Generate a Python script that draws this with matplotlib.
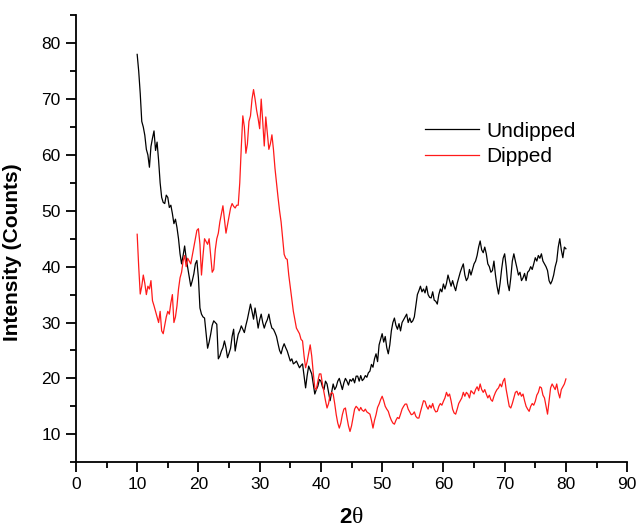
"""
XRD pattern: undipped vs dipped sample, intensity against 2-theta.
"""

import numpy as np
import matplotlib.pyplot as plt
import matplotlib as mpl
from matplotlib.ticker import MultipleLocator

mpl.rcParams["font.family"] = ["Liberation Sans", "DejaVu Sans"]

# -----------------------------------------------------------------------------
# Data, 0.25 degree steps from 10 to 80
# -----------------------------------------------------------------------------
two_theta = np.arange(10.0, 80.01, 0.25)

undipped = [
    78, 75, 71, 66, 65, 63.5, 61, 60, 57.8, 61.5, 63, 64.3, 60.8, 62.3, 59, 55, 52.4, 51.5, 51.3, 52.8,
    52.4, 50.6, 51, 49.5, 47.7, 48.5, 47, 45, 42.3, 40.5, 42, 43.7, 41.5, 39.8, 38, 36.5, 37.5, 38.7, 40.5, 41.1,
    38, 32.6, 31.5, 31, 30.8, 28, 25.4, 26.5, 27.9, 29.5, 30.3, 30, 29.7, 23.5, 24, 24.9, 25.5, 26.7, 25.5, 23.7,
    24.5, 25.4, 27.5, 28.8, 24.9, 26.5, 27.9, 28.5, 29.4, 28.8, 28.2, 29.5, 30.6, 32, 33.3, 32, 30.6, 32.6, 31, 29,
    30.5, 31.5, 30, 29, 29.9, 30.5, 31.5, 30, 29, 28.8, 28.2, 27.5, 26.2, 25, 24.4, 25.5, 26.2, 25.5, 24.9, 24,
    23.1, 23.5, 22.6, 22.8, 23.1, 22.5, 21.9, 22.3, 22.6, 20.5, 18.3, 20.5, 22.2, 21.5, 20.8, 19, 17.2, 18, 18.6, 19.8,
    19.5, 18.5, 18, 19.5, 19, 17.5, 16, 17.5, 19, 18, 18.5, 19.5, 20, 19, 18, 19.2, 20, 19.5, 18.8, 19.8,
    19.5, 20, 19.2, 20.4, 20.4, 19.5, 20.5, 19.6, 19.9, 20.5, 20.2, 21, 21.3, 22.5, 22, 23.5, 24.4, 23, 26, 27,
    28, 26.5, 27.5, 25.5, 24.4, 26, 28.5, 30, 30.8, 29.5, 28.8, 29.8, 28.5, 30, 30.5, 31, 31.5, 30, 30.8, 30,
    30.3, 31, 33, 35, 35.7, 36.5, 35.5, 36, 35.3, 36.5, 35, 34.5, 34.4, 35.5, 34, 33.8, 33.3, 35, 36, 35.5,
    36.9, 36, 37, 38.5, 37.5, 36.5, 37.5, 36.5, 35.7, 37, 38, 39, 39.8, 40.5, 38.5, 37.5, 38, 39.5, 38.5, 39.5,
    40.5, 41, 42, 43.5, 44.6, 43, 42.5, 43.5, 42.3, 40.5, 40, 39, 39.3, 41, 38.5, 36.5, 35.1, 37, 39.5, 41.5,
    42.3, 40, 37, 35.7, 38, 41, 42.3, 41, 39.8, 38.5, 39, 37.5, 38, 38.8, 37.5, 39, 39.3, 40, 39.5, 40.5,
    41.6, 41, 42, 41.5, 42.3, 41, 40.5, 40, 39.3, 37.5, 36.9, 37.5, 38.5, 40, 41, 43.5, 45, 43, 41.6, 43.5,
    43.2,
]

dipped = [
    45.8, 40, 35.1, 36.5, 38.5, 37, 35, 36.5, 36, 37.5, 33.9, 33, 32, 31, 30, 32, 28.5, 28, 29.5, 31,
    32, 31.5, 33.5, 35, 30, 31, 33, 36, 38, 39, 41, 42, 40, 41.5, 41, 40.5, 42, 43.5, 45, 46.5,
    46.8, 44, 38.5, 42, 45, 44.5, 44, 45, 42, 39, 39.5, 43, 45, 46, 48, 49.5, 50.9, 48.5, 46, 47.5,
    49, 50.5, 51.3, 50.8, 50.5, 51, 51, 55, 61.4, 67, 65, 60.3, 62, 66, 67, 70, 71.7, 70, 68, 66.5,
    64.7, 70, 66, 61.6, 66.8, 64, 61, 62, 63.6, 61, 57.6, 55, 52.4, 50, 48, 45, 42.2, 41.5, 41.3, 38.5,
    36.3, 34, 32, 30.5, 29, 28.5, 28, 27, 26.7, 24, 21.9, 23, 24.5, 26, 24, 21, 18.3, 18, 19.5, 20.8,
    20.8, 19, 17.5, 16, 14.7, 15.5, 17, 17.5, 17.2, 15.5, 13.5, 12, 11.1, 12, 13.5, 14.5, 14.7, 13, 11.5, 10.5,
    11.5, 13, 14.5, 15, 14.7, 14.2, 14.8, 14.3, 14.1, 14.5, 14, 13.8, 13.6, 12.5, 11.1, 12.5, 13.5, 14.8, 15.4, 16.2,
    16.8, 16, 15, 14.5, 14.1, 13.2, 12.5, 12, 11.8, 12.5, 13, 12.8, 13.6, 14.5, 15, 15.4, 15.4, 14.5, 14, 13.5,
    13.6, 14, 13.2, 12.9, 12.9, 14, 15, 16, 15.9, 15, 14.5, 15.2, 14.7, 15.5, 14.5, 14, 14.1, 15, 15.5, 15.2,
    15.9, 16.5, 17.5, 16.8, 17.2, 16, 14.5, 13.8, 13.6, 14.5, 15.5, 16, 16.5, 17.5, 16.8, 17.5, 17.2, 16.5, 17.8, 17.5,
    17.2, 18, 18.5, 17.8, 19, 18, 17.5, 18, 17.2, 16.5, 17, 16.2, 15.9, 16.8, 17.5, 18, 18.3, 19, 18.5, 19.5,
    20, 18, 16.5, 15, 14.7, 15.5, 16.5, 17.5, 17.7, 17, 17.5, 16.8, 17.2, 16, 15, 14.5, 14.1, 15, 15.5, 15.2,
    15.9, 17, 17.5, 18.5, 18.3, 17, 16.5, 15, 13.6, 16, 18.3, 19, 18.5, 18, 19, 17.5, 16.5, 18, 18.5, 19,
    19.9,
]

x_ticks = [0, 10, 20, 30, 40, 50, 60, 70, 80, 90]
y_ticks = [10, 20, 30, 40, 50, 60, 70, 80]


def main():
    fig = plt.figure(figsize=(6.38, 5.27), dpi=100)
    ax = fig.add_axes([0.119, 0.123, 0.864, 0.848])

    ax.plot(two_theta, undipped, color="black", linewidth=0.9, label="Undipped")
    ax.plot(two_theta, dipped, color="#ff1a1a", linewidth=0.9, label="Dipped")

    ax.set_xlim(0, 90)
    ax.set_ylim(5, 85)
    ax.set_xticks(x_ticks)
    ax.set_yticks(y_ticks)
    ax.xaxis.set_minor_locator(MultipleLocator(5))
    ax.yaxis.set_minor_locator(MultipleLocator(5))

    for side in ["top", "right"]:
        ax.spines[side].set_visible(False)
    for side in ["left", "bottom"]:
        ax.spines[side].set_linewidth(1.3)

    ax.tick_params(which="major", direction="out", length=7, width=1.3, labelsize=12.5, pad=4)
    ax.tick_params(which="minor", direction="out", length=4, width=1.3)

    ax.set_ylabel("Intensity (Counts)", fontsize=15, fontweight="bold")
    ax.yaxis.set_label_coords(-0.098, 0.47)

    # x label "2θ": bold digit, plain serif theta (as in the original)
    fig.text(0.551, 0.018, "2", fontsize=16, fontweight="bold", ha="right", va="center")
    fig.text(0.551, 0.018, "θ", fontsize=17, family="Liberation Serif", ha="left", va="center")

    ax.legend(loc="upper left", bbox_to_anchor=(0.633, 0.762), frameon=False,
              fontsize=15, handlelength=2.6, handletextpad=0.35, labelspacing=0.3,
              borderpad=0, borderaxespad=0)

    fig.savefig("out.png", dpi=100)
    plt.close(fig)


if __name__ == "__main__":
    main()
